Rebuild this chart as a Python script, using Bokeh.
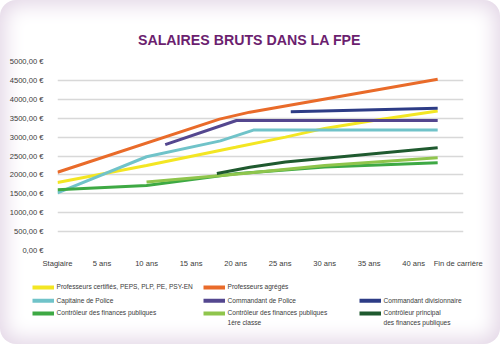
from bokeh.plotting import figure
from bokeh.models import FixedTicker
from bokeh.core.properties import value
from bokeh.embed import file_html
from bokeh.resources import INLINE

# ---------------- data ----------------
title_text = "SALAIRES BRUTS DANS LA FPE"

x_tick_years = [0, 5, 10, 15, 20, 25, 30, 35, 40, 45]
x_tick_labels = ["Stagiaire", "5 ans", "10 ans", "15 ans", "20 ans", "25 ans",
                 "30 ans", "35 ans", "40 ans", "Fin de carrière"]
y_ticks = [0, 500, 1000, 1500, 2000, 2500, 3000, 3500, 4000, 4500, 5000]
y_tick_labels = ["0,00 €", "500,00 €", "1000,00 €", "1500,00 €", "2000,00 €", "2500,00 €",
                 "3000,00 €", "3500,00 €", "4000,00 €", "4500,00 €", "5000,00 €"]

certifies_x = [0, 10, 20, 25.6, 30, 35.5, 42.7]
certifies_y = [1800, 2250, 2730, 3000, 3230, 3440, 3690]

agreges_x = [0, 18.2, 21.6, 42.7]
agreges_y = [2070, 3475, 3660, 4530]

capitaine_x = [0, 10, 18.3, 22, 42.7]
capitaine_y = [1525, 2480, 2900, 3185, 3185]

commandant_x = [12.1, 20.1, 42.7]
commandant_y = [2800, 3440, 3440]

divisionnaire_x = [26.2, 42.7]
divisionnaire_y = [3670, 3760]

controleur_x = [0, 10, 20, 30, 42.7]
controleur_y = [1605, 1720, 2030, 2210, 2320]

controleur1_x = [10, 20, 30, 42.7]
controleur1_y = [1810, 2020, 2250, 2455]

principal_x = [17.9, 21.6, 25.6, 42.7]
principal_y = [2035, 2200, 2340, 2720]

series_names = [
    "Professeurs certifiés, PEPS, PLP, PE, PSY-EN",
    "Professeurs agrégés",
    "Capitaine de Police",
    "Commandant de Police",
    "Commandant divisionnaire",
    "Contrôleur des finances publiques",
    "Contrôleur des finances publiques\n1ère classe",
    "Contrôleur principal\ndes finances publiques",
]
series_colors = ["#f3e623", "#e96b2a", "#70c3c9", "#54478f",
                 "#2d3c86", "#3ea944", "#8fc54c", "#1f5a2f"]
series_x = [certifies_x, agreges_x, capitaine_x, commandant_x,
            divisionnaire_x, controleur_x, controleur1_x, principal_x]
series_y = [certifies_y, agreges_y, capitaine_y, commandant_y,
            divisionnaire_y, controleur_y, controleur1_y, principal_y]

FONT = "Liberation Sans"
TEXT_COL = "#3a3a3a"


def bare(fig):
    fig.axis.visible = False
    fig.grid.visible = False
    fig.outline_line_color = None
    fig.background_fill_alpha = 0
    fig.border_fill_alpha = 0
    return fig


# ---------------- header (title) ----------------
head = bare(figure(width=500, height=50, x_range=(0, 500), y_range=(50, 0),
                   output_backend="svg", toolbar_location=None, min_border=0))
head.text(x=[249], y=[39], text=[title_text], text_font=value(FONT),
          text_font_style="bold", text_font_size="14.2px", text_color="#6c1f6f",
          text_align="center", text_baseline="middle")

# ---------------- chart ----------------
p = figure(width=500, height=222, x_range=(0, 45.6), y_range=(0, 5000),
           output_backend="svg", toolbar_location=None,
           min_border_left=57, min_border_right=37, min_border_top=11, min_border_bottom=22)
p.background_fill_alpha = 0
p.border_fill_alpha = 0
p.outline_line_color = None

p.xaxis.ticker = FixedTicker(ticks=x_tick_years)
p.xaxis.major_label_overrides = {t: l for t, l in zip(x_tick_years, x_tick_labels)}
p.yaxis.ticker = FixedTicker(ticks=y_ticks)
p.yaxis.major_label_overrides = {t: l for t, l in zip(y_ticks, y_tick_labels)}
for ax in (p.xaxis[0], p.yaxis[0]):
    ax.axis_line_color = None
    ax.major_tick_line_color = None
    ax.minor_tick_line_color = None
    ax.major_label_text_font = FONT
    ax.major_label_text_font_size = "7.6px"
    ax.major_label_text_color = TEXT_COL
p.yaxis.major_label_standoff = 8
p.xaxis.major_label_standoff = 2

p.xgrid.visible = False
p.ygrid.ticker = FixedTicker(ticks=y_ticks[:-1])
p.ygrid.grid_line_color = "#d8d8d8"
p.ygrid.grid_line_width = 1.5

for xs, ys, c in zip(series_x, series_y, series_colors):
    p.line(xs, ys, line_color=c, line_width=3)

# ---------------- legend ----------------
leg = bare(figure(width=500, height=72, x_range=(0, 500), y_range=(72, 0),
                  output_backend="svg", toolbar_location=None, min_border=0))

col_x = [32, 203, 359]
row_y = [15, 28.3, 41]
slots = [(0, 0), (1, 0), (0, 1), (1, 1), (2, 1), (0, 2), (1, 2), (2, 2)]
sw_l, sw_r, sw_t, sw_b, tx, ty = [], [], [], [], [], []
for (c, r) in slots:
    sw_l.append(col_x[c])
    sw_r.append(col_x[c] + 21.5)
    sw_t.append(row_y[r] - 2)
    sw_b.append(row_y[r] + 2)
    tx.append(col_x[c] + 24)
    ty.append(row_y[r] - 4.3)
leg.quad(left=sw_l, right=sw_r, top=sw_t, bottom=sw_b, fill_color=series_colors,
         line_color=None)
leg.text(x=tx, y=ty, text=series_names, text_font=value(FONT),
         text_font_size="6.6px", text_color=TEXT_COL, text_align="left",
         text_baseline="top", text_line_height=1.35)

card_css = """
{% block postamble %}
<style>
  html { background: #ffffff; }
  body {
    width: 500px; height: 344px; margin: 0; padding: 0; overflow: hidden;
    background: #ffffff; border-radius: 16px;
    box-shadow: inset 0 0 20px 5px #e3d6e6;
  }
</style>
{% endblock %}
"""

open("out.html", "w").write(file_html([head, p, leg], INLINE, template=card_css))
